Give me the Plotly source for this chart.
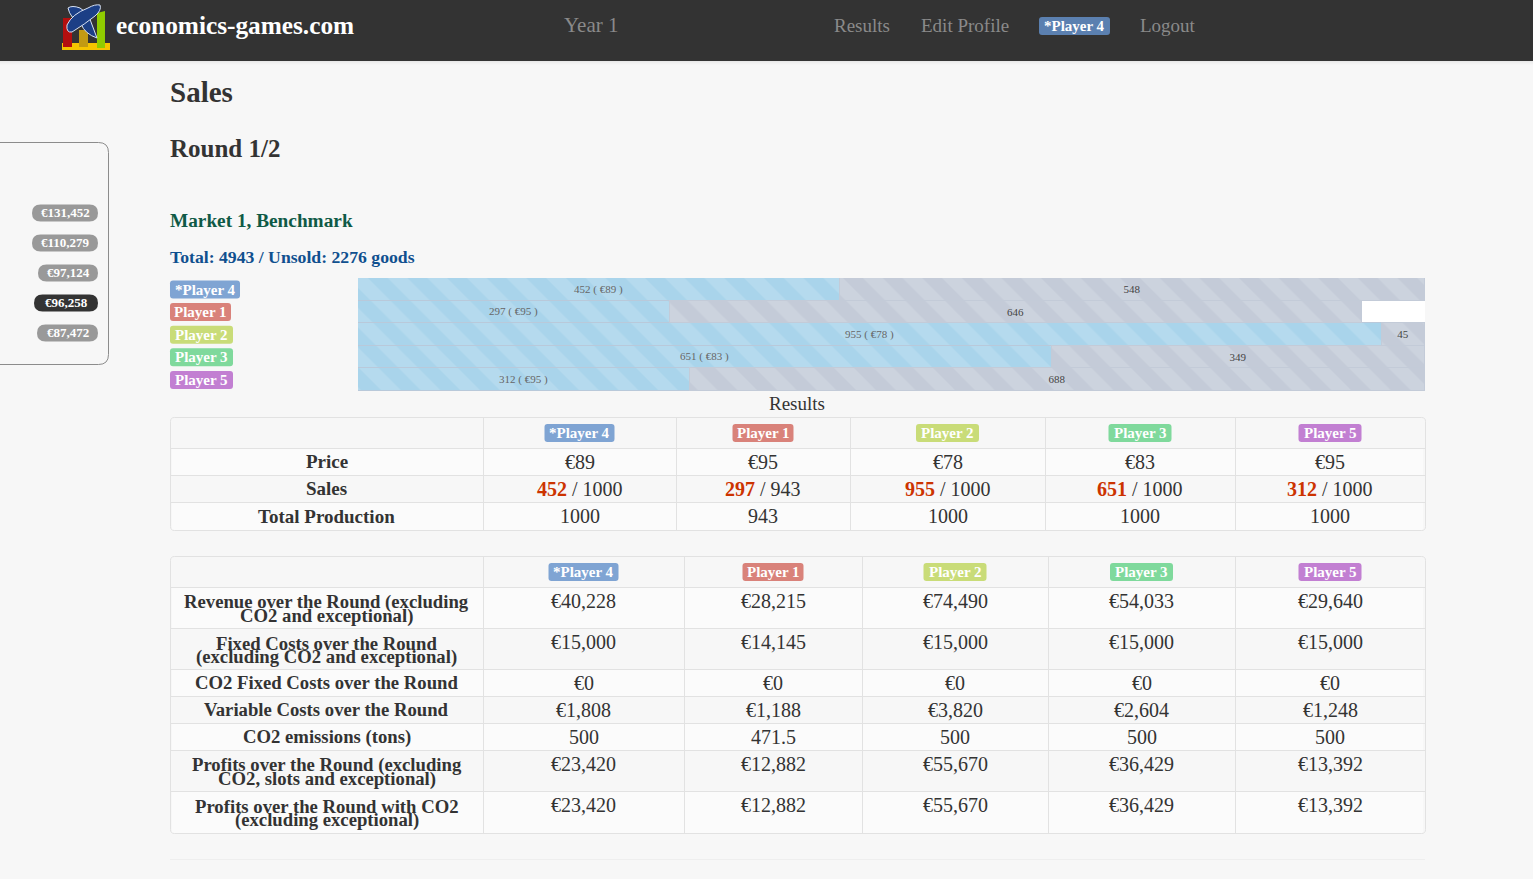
import plotly.graph_objects as go

W, H = 1533, 879
FONT = "Liberation Serif"

players = ["*Player 4", "Player 1", "Player 2", "Player 3", "Player 5"]
player_colors = ["#7fa4d3", "#d9827a", "#c9dc78", "#7fd99c", "#c27fd2"]
sold = [452, 297, 955, 651, 312]
unsold = [548, 646, 45, 349, 688]
prices = [89, 95, 78, 83, 95]
production = [1000, 943, 1000, 1000, 1000]
# the drawn bars are percent of the track, slightly off the labels in the original
sold_share = [45.2, 29.2, 96.0, 65.0, 31.1]
unsold_share = [54.8, 64.9, 4.0, 35.0, 68.9]

sidebar_values = ["€131,452", "€110,279", "€97,124", "€96,258", "€87,472"]

table2_labels = [
    ["Revenue over the Round (excluding", "CO2 and exceptional)"],
    ["Fixed Costs over the Round", "(excluding CO2 and exceptional)"],
    ["CO2 Fixed Costs over the Round"],
    ["Variable Costs over the Round"],
    ["CO2 emissions (tons)"],
    ["Profits over the Round (excluding", "CO2, slots and exceptional)"],
    ["Profits over the Round with CO2", "(excluding exceptional)"],
]
table2_values = [
    ["€40,228", "€28,215", "€74,490", "€54,033", "€29,640"],
    ["€15,000", "€14,145", "€15,000", "€15,000", "€15,000"],
    ["€0", "€0", "€0", "€0", "€0"],
    ["€1,808", "€1,188", "€3,820", "€2,604", "€1,248"],
    ["500", "471.5", "500", "500", "500"],
    ["€23,420", "€12,882", "€55,670", "€36,429", "€13,392"],
    ["€23,420", "€12,882", "€55,670", "€36,429", "€13,392"],
]

# page layout, in screen pixels
t1_cols = [170, 483, 676, 850, 1045, 1235, 1425]
t1_rows = [417, 448, 475, 502, 530]
t2_cols = [170, 483, 684, 862, 1048, 1235, 1425]
t2_rows = [556, 587, 628, 669, 696, 723, 750, 791, 833]
bar_left, bar_right, bar_top, bar_bottom = 358, 1425, 278, 391

fig = go.Figure()

# the sales bars use the real axes; pattern size 28 gives a 40px stripe period
fig.add_trace(go.Bar(
    y=players, x=sold_share, orientation="h", name="Sold",
    text=[f"{s} ( €{p} )" for s, p in zip(sold, prices)],
    textposition="inside", insidetextanchor="middle", textangle=0,
    textfont=dict(family=FONT, size=11, color="#666666"),
    marker=dict(color="#a9d4eb", line=dict(width=1, color="#b9c9da"),
                pattern=dict(shape="\\", size=28, solidity=0.5, fgcolor="#b5daee", bgcolor="#a9d4eb", fgopacity=1)),
))
fig.add_trace(go.Bar(
    y=players, x=unsold_share, orientation="h", name="Unsold",
    text=[str(u) for u in unsold],
    textposition="inside", insidetextanchor="middle", textangle=0,
    textfont=dict(family=FONT, size=11, color="#444444"),
    marker=dict(color="#c4cbd8", line=dict(width=1, color="#c3cbd8"),
                pattern=dict(shape="\\", size=28, solidity=0.5, fgcolor="#ccd3de", bgcolor="#c4cbd8", fgopacity=1)),
))

shapes = []
notes = []


def px(x):
    return x / W


def py(y):
    return 1 - y / H


def rect(x0, y0, x1, y1, fill):
    shapes.append(dict(type="rect", xref="paper", yref="paper", x0=px(x0), y0=py(y0), x1=px(x1), y1=py(y1),
                       fillcolor=fill, line=dict(width=0), layer="below"))


def poly(points, fill, line=None, layer="above"):
    # points is a list of (command, x, y, ...) in pixels
    path = ""
    for p in points:
        cmd, coords = p[0], p[1:]
        pairs = [f"{px(coords[i]):.5f},{py(coords[i + 1]):.5f}" for i in range(0, len(coords), 2)]
        path += cmd + " ".join(pairs) + " "
    shapes.append(dict(type="path", xref="paper", yref="paper", path=path + "Z", fillcolor=fill,
                       line=dict(color=line or fill, width=1 if line else 0), layer=layer))


def rounded(x0, y0, x1, y1, r, fill, line=None, layer="above"):
    poly([("M", x0 + r, y0), ("L", x1 - r, y0), ("Q", x1, y0, x1, y0 + r), ("L", x1, y1 - r),
          ("Q", x1, y1, x1 - r, y1), ("L", x0 + r, y1), ("Q", x0, y1, x0, y1 - r), ("L", x0, y0 + r),
          ("Q", x0, y0, x0 + r, y0)], fill, line, layer)


def hline(x0, x1, y, color="#e2e2e2"):
    shapes.append(dict(type="line", xref="paper", yref="paper", x0=px(x0), x1=px(x1), y0=py(y + 0.5), y1=py(y + 0.5),
                       line=dict(color=color, width=1), layer="above"))


def vline(x, y0, y1, color="#e2e2e2"):
    shapes.append(dict(type="line", xref="paper", yref="paper", x0=px(x + 0.5), x1=px(x + 0.5), y0=py(y0), y1=py(y1),
                       line=dict(color=color, width=1), layer="above"))


def label(x, y, text, size=18, color="#333333", anchor="center", bold=False):
    # annotations keep 2px of padding around the text
    notes.append(dict(xref="paper", yref="paper", x=px(x - 2 if anchor == "left" else x), y=py(y),
                      text=f"<b>{text}</b>" if bold else text,
                      showarrow=False, xanchor=anchor, yanchor="middle",
                      font=dict(family=FONT, size=size, color=color)))


def badge(cx, cy, text, fill, width, height=18, size=15):
    rounded(cx - width / 2, cy - height / 2, cx + width / 2, cy + height / 2, 3, fill)
    label(cx, cy, text, size=size, color="#ffffff", bold=True)


def table(cols, rows, fills):
    for i in range(len(rows) - 1):
        rect(cols[0] + 2, rows[i], cols[-1] - 2, rows[i + 1], fills[i % 2])
    rounded(cols[0] + 0.5, rows[0] + 0.5, cols[-1] + 0.5, rows[-1] + 0.5, 4, "rgba(0,0,0,0)", "#e2e2e2")
    for y in rows[1:-1]:
        hline(cols[0], cols[-1], y)
    for x in cols[1:-1]:
        vline(x, rows[0], rows[-1])
    for j, p in enumerate(players):
        cx = (cols[j + 1] + cols[j + 2]) / 2
        badge(cx, (rows[0] + rows[1]) / 2 + 0.5, p, player_colors[j], badge_widths[j])


badge_widths = [70, 61, 63, 63, 63]

# navbar
rect(0, 0, W, 61, "#333333")
for k, c in enumerate(["#e9e9e9", "#eeeeee", "#f2f2f2", "#f5f5f5"]):
    rect(0, 61 + k, W, 62 + k, c)

# logo
rect(62, 43, 110, 50, "#f5c400")
poly([("M", 63, 18), ("L", 72, 18), ("L", 72, 47), ("L", 63, 47)], "#b30f0f")
poly([("M", 79, 30), ("L", 88, 30), ("L", 88, 47), ("L", 79, 47)], "#c29a12")
poly([("M", 97, 13), ("L", 105, 11), ("L", 105, 48), ("L", 97, 48)], "#90cc00")
poly([("M", 68, 8), ("Q", 72, 5, 80, 8), ("L", 88, 14), ("L", 97, 38), ("Q", 85, 34, 81, 24), ("Q", 70, 18, 68, 8)],
     "#1c3f86", "#d9e2f2")
poly([("M", 100, 5), ("Q", 102, 10, 95, 16), ("Q", 85, 24, 72, 32), ("Q", 66, 33, 67, 25), ("Q", 72, 14, 88, 8),
      ("Q", 95, 4, 100, 5)], "#1c3f86", "#d9e2f2")

label(116, 25.5, "economics-games.com", size=25.3, color="#ffffff", anchor="left", bold=True)
label(564, 25, "Year 1", size=21, color="#8a8a8a", anchor="left")
label(834, 25, "Results", size=19, color="#8a8a8a", anchor="left")
label(921, 25, "Edit Profile", size=19, color="#8a8a8a", anchor="left")
badge(1074.5, 26, players[0], "#5b80b0", 71, size=15)
label(1140, 25, "Logout", size=19, color="#8a8a8a", anchor="left")

# headings
label(170, 92, "Sales", size=29, anchor="left", bold=True)
label(170, 149, "Round 1/2", size=25, anchor="left", bold=True)
label(170, 220.5, "Market 1, Benchmark", size=19.3, color="#0f5a46", anchor="left", bold=True)
label(170, 257, "Total: 4943 / Unsold: 2276 goods", size=17.7, color="#10508f", anchor="left", bold=True)

# side panel
rounded(-20, 142.5, 108.5, 364.5, 10, "rgba(0,0,0,0)", "#8c8c8c", layer="below")
side_y = [213, 243, 273, 303, 333]
side_left = [32, 32, 38, 34, 37]
for i, v in enumerate(sidebar_values):
    fill = "#333333" if i == 3 else "#999999"
    rounded(side_left[i], side_y[i] - 8.5, 98, side_y[i] + 8.5, 8.5, fill)
    label((side_left[i] + 98) / 2, side_y[i] - 0.5, v, size=13, color="#ffffff", bold=True)

# names next to the bars
for i, p in enumerate(players):
    badge(170 + badge_widths[i] / 2, 289.5 + i * 22.6, p, player_colors[i], badge_widths[i])

label(797, 403.5, "Results", size=19)

# first table
table(t1_cols, t1_rows, ["#f7f7f7", "#fbfbfb"])
row_y = [(t1_rows[i] + t1_rows[i + 1]) / 2 for i in range(1, 4)]
for y, t in zip(row_y, ["Price", "Sales", "Total Production"]):
    label((t1_cols[0] + t1_cols[1]) / 2, y, t, size=19, bold=True)
for j in range(5):
    cx = (t1_cols[j + 1] + t1_cols[j + 2]) / 2
    label(cx, row_y[0] + 0.5, f"€{prices[j]}", size=20)
    label(cx, row_y[1], f"<b><span style='color:#cc3300'>{sold[j]}</span></b> / {production[j]}", size=20)
    label(cx, row_y[2], str(production[j]), size=20)

# second table
table(t2_cols, t2_rows, ["#f7f7f7", "#fbfbfb"])
for i, lines in enumerate(table2_labels):
    top, bottom = t2_rows[i + 1], t2_rows[i + 2]
    mid = (top + bottom) / 2
    for k, line in enumerate(lines):
        y = mid if len(lines) == 1 else top + 15 + 14 * k
        label((t2_cols[0] + t2_cols[1]) / 2, y, line, size=18.7, bold=True)
    for j, v in enumerate(table2_values[i]):
        cx = (t2_cols[j + 1] + t2_cols[j + 2]) / 2
        label(cx, mid if len(lines) == 1 else top + 14, v, size=20)

hline(170, 1425, 859, "#eeeeee")

fig.update_layout(
    width=W, height=H, autosize=False,
    margin=dict(l=0, r=0, t=0, b=0),
    paper_bgcolor="#f7f7f7", plot_bgcolor="#ffffff",
    barmode="stack", bargap=0, showlegend=False,
    shapes=shapes, annotations=notes,
    xaxis=dict(domain=[px(bar_left), px(bar_right)], range=[0, 100], visible=False, fixedrange=True),
    yaxis=dict(domain=[py(bar_bottom), py(bar_top)], autorange="reversed", visible=False, fixedrange=True),
)

fig.write_html("out.html", config={"displayModeBar": False},
               post_script="document.body.style.margin='0';document.documentElement.style.overflow='hidden';")
